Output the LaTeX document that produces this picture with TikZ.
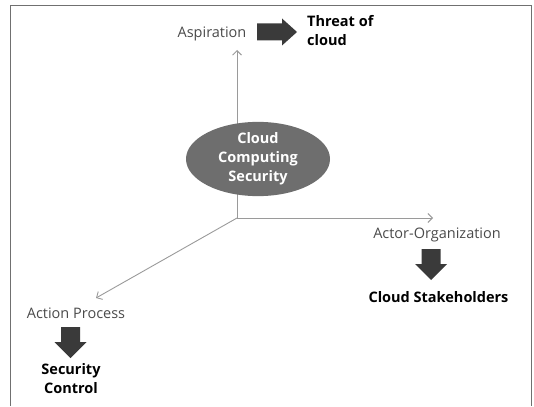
\documentclass[tikz,border=0pt]{standalone}
\usepackage{fontspec}
\setmainfont{Open Sans}
\usetikzlibrary{arrows.meta,shapes.geometric}
\definecolor{axisgray}{HTML}{9A9A9A}
\definecolor{labelgray}{HTML}{4A4A4A}
\definecolor{blockdark}{HTML}{3A3A3A}
\definecolor{coregray}{HTML}{6E6E6E}
\definecolor{framegray}{HTML}{707070}
\begin{document}
\begin{tikzpicture}[x=1pt,y=-1pt,
  axis/.style={draw=axisgray,line width=0.9pt,-{Straight Barb[length=4.5pt,width=9pt]}},
  dimlabel/.style={font=\fontsize{14.5}{19}\selectfont,text=labelgray,inner sep=0pt,anchor=base},
  result/.style={font=\fontsize{14.5}{19}\selectfont\bfseries,text=black,inner sep=0pt,align=center},
  core/.style={ellipse,fill=coregray,minimum width=144pt,minimum height=66pt,inner sep=0pt,
    text=white,font=\fontsize{14.5}{19}\selectfont\bfseries,align=center},
  blockarrow/.style={fill=blockdark}]
\useasboundingbox (0,0) rectangle (534,406);
% open frame (no bottom edge)
\draw[framegray,line width=1.5pt] (10.7,406) -- (10.7,5.7) -- (531.3,5.7) -- (531.3,406);

% three axes from a common origin
\coordinate (o) at (237,218);
\coordinate (up) at (237,50);
\coordinate (right) at (433,218);
\coordinate (diag) at (96,298);
\draw[axis] (o) -- (up);
\draw[axis] (o) -- (right);
\draw[axis] (o) -- (diag);

% central topic
\node[core] (ccs) at (258,159) {Cloud\\Computing\\Security};

% axis labels
\node[dimlabel] (asp) at (212,38) {Aspiration};
\node[dimlabel] (actor) at (437,238) {Actor-Organization};
\node[dimlabel] (action) at (76,318) {Action Process};

% outcomes
\node[result,align=left,anchor=north west] (threat) at (307,15.5) {Threat of\\cloud};
\node[result,anchor=base] (stake) at (438.5,302) {Cloud Stakeholders};
\node[result,anchor=north] (secctl) at (71,363.5) {Security\\Control};

% block arrows
\fill[blockarrow] (257,23.5) -- (282,23.5) -- (282,18.5) -- (297,32) -- (282,45.5) -- (282,40.5) -- (257,40.5) -- cycle;
\fill[blockarrow] (421.5,249) -- (440.5,249) -- (440.5,264) -- (447,264) -- (431,280) -- (415,264) -- (421.5,264) -- cycle;
\fill[blockarrow] (61,327) -- (80,327) -- (80,342) -- (86.5,342) -- (70.5,358) -- (54.5,342) -- (61,342) -- cycle;
\end{tikzpicture}
\end{document}
